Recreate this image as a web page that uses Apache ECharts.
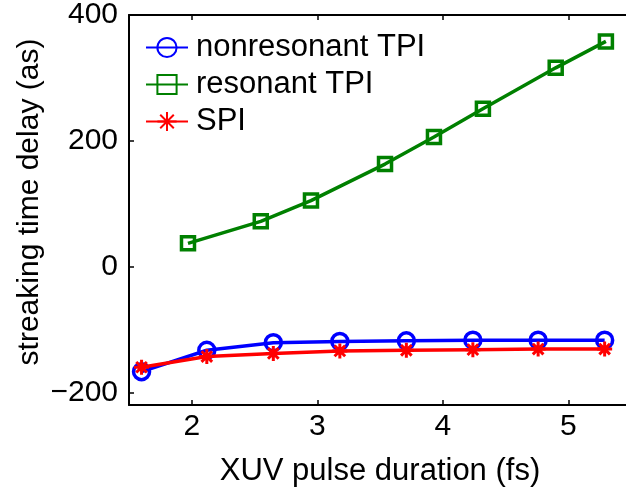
<!DOCTYPE html>
<html>
<head>
<meta charset="utf-8">
<script src="https://cdn.jsdelivr.net/npm/echarts@6/dist/echarts.min.js"></script>
<style>
  html, body { margin: 0; padding: 0; background: #fff; }
  #chart { width: 626px; height: 489px; }
</style>
</head>
<body>
<div id="chart"></div>
<script>
// XUV pulse durations (fs) and streaking delays (as)
const tpiDurations = [1.60, 2.12, 2.65, 3.18, 3.71, 4.24, 4.76, 5.29];
const nonresonantTPI = [-167, -133, -121, -119, -118, -117, -117, -117];
const spiDelays = [-160, -143, -138, -134, -133, -132, -131, -131];
const resonantDurations = [1.97, 2.55, 2.95, 3.54, 3.93, 4.32, 4.90, 5.30];
const resonantTPI = [37, 72, 105, 163, 206, 251, 316, 358];
const xTicks = [2, 3, 4, 5];
const yTicks = [-200, 0, 200, 400];

const FONT = 'Liberation Sans';
const pair = (xs, ys) => xs.map((x, i) => [x, ys[i]]);
const asterisk = 'path://M0 -10 L0 10 M-10 0 L10 0 M-7.07 -7.07 L7.07 7.07 M-7.07 7.07 L7.07 -7.07';

const chart = echarts.init(document.getElementById('chart'), null, { renderer: 'canvas' });

const axisLine = { show: true, onZero: false, lineStyle: { color: '#000', width: 2 } };
const tick = values => ({
  show: true, inside: true, length: 5, customValues: values,
  lineStyle: { color: '#000', width: 1.5 }
});

chart.setOption({
  animation: false,
  backgroundColor: '#fff',
  grid: {
    left: 129, top: 15, width: 502, height: 390,
    containLabel: false, outerBoundsMode: 'none'
  },
  legend: {
    orient: 'vertical',
    left: 140,
    top: 27,
    itemWidth: 42,
    itemHeight: 24,
    itemGap: 6,
    textStyle: { fontFamily: FONT, fontSize: 31, color: '#000', padding: [0, 0, 0, 3] },
    data: ['nonresonant TPI', 'resonant TPI', 'SPI']
  },
  xAxis: [{
    type: 'value', min: 1.5, max: 5.5,
    name: 'XUV pulse duration (fs)', nameLocation: 'middle', nameGap: 51,
    nameTextStyle: { fontFamily: FONT, fontSize: 31, color: '#000' },
    axisLine, axisTick: tick(xTicks),
    axisLabel: {
      fontFamily: FONT, fontSize: 30, color: '#000', margin: 7,
      customValues: xTicks
    },
    splitLine: { show: false }
  }, {
    type: 'value', position: 'top', min: 1.5, max: 5.5,
    axisLine, axisTick: tick(xTicks), axisLabel: { show: false }, splitLine: { show: false }
  }],
  yAxis: [{
    type: 'value', min: -220, max: 400,
    axisLine, axisTick: tick(yTicks),
    axisLabel: {
      fontFamily: FONT, fontSize: 30, color: '#000', margin: 11,
      customValues: yTicks,
      formatter: v => String(v).replace('-', '\u2212')
    },
    splitLine: { show: false }
  }],
  graphic: [{
    type: 'text',
    x: 30, y: 202, rotation: Math.PI / 2,
    style: {
      text: 'streaking time delay (as)',
      font: '30px "Liberation Sans"', fill: '#000',
      align: 'center', verticalAlign: 'middle'
    }
  }],
  series: [{
    name: 'nonresonant TPI', type: 'line',
    data: pair(tpiDurations, nonresonantTPI),
    symbol: 'circle', symbolSize: 16,
    lineStyle: { color: '#0000ff', width: 3.5 },
    itemStyle: { color: 'rgba(0,0,0,0)', borderColor: '#0000ff', borderWidth: 3.5 },
    z: 2
  }, {
    name: 'resonant TPI', type: 'line',
    data: pair(resonantDurations, resonantTPI),
    symbol: 'rect', symbolSize: 13,
    lineStyle: { color: '#008000', width: 3.5 },
    itemStyle: { color: 'rgba(0,0,0,0)', borderColor: '#008000', borderWidth: 3.5 },
    z: 3
  }, {
    name: 'SPI', type: 'line',
    data: pair(tpiDurations, spiDelays),
    symbol: asterisk, symbolSize: 15,
    lineStyle: { color: '#ff0000', width: 3.5 },
    itemStyle: { color: 'rgba(0,0,0,0)', borderColor: '#ff0000', borderWidth: 3 },
    z: 4
  }]
});
</script>
</body>
</html>
